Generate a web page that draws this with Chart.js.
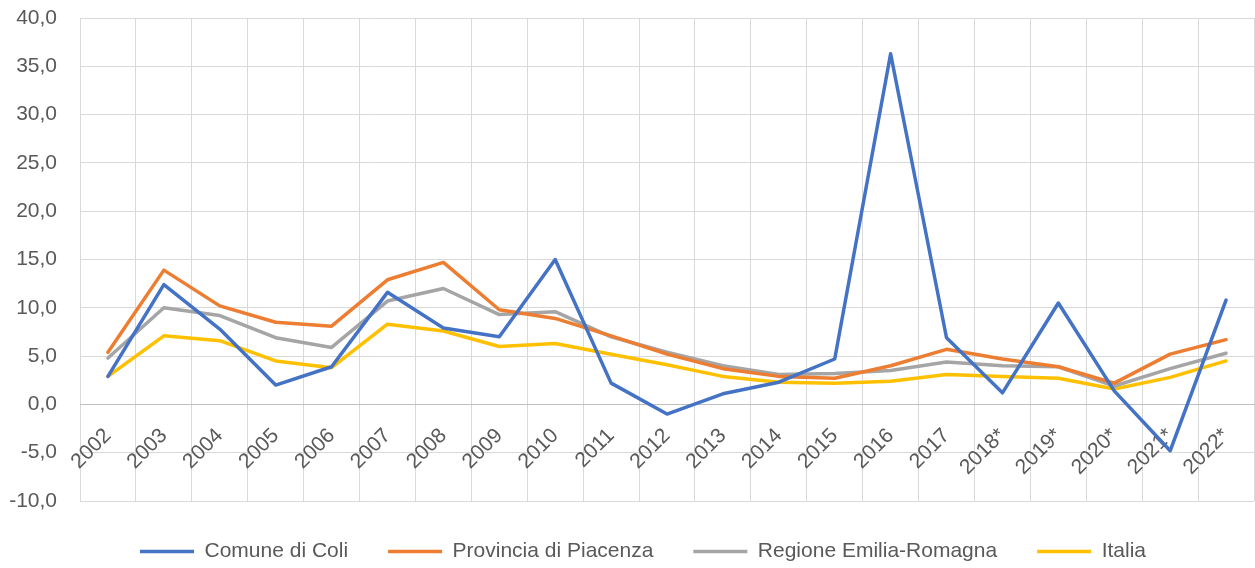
<!DOCTYPE html>
<html>
<head>
<meta charset="utf-8">
<script src="https://cdn.jsdelivr.net/npm/chart.js@4.4.1/dist/chart.umd.min.js"></script>
<style>
html,body{margin:0;padding:0;background:#fff;}
#wrap{width:1255px;height:568px;position:relative;}
</style>
</head>
<body>
<div id="wrap"><canvas id="c"></canvas></div>
<script>
const categories = ['2002','2003','2004','2005','2006','2007','2008','2009','2010','2011','2012','2013','2014','2015','2016','2017','2018*','2019*','2020*','2021*','2022*'];
const seriesNames = ['Comune di Coli','Provincia di Piacenza','Regione Emilia-Romagna','Italia'];
const comuneColi = [2.9, 12.4, 7.8, 2.0, 3.9, 11.6, 7.9, 7.0, 15.0, 2.2, -1.0, 1.1, 2.3, 4.7, 36.3, 6.9, 1.2, 10.5, 1.4, -4.8, 10.8];
const provinciaPiacenza = [5.4, 13.9, 10.2, 8.5, 8.1, 12.9, 14.7, 9.8, 8.9, 7.1, 5.2, 3.7, 2.9, 2.7, 4.0, 5.7, 4.7, 3.9, 2.2, 5.2, 6.7];
const regioneER = [4.8, 10.0, 9.2, 6.9, 5.9, 10.7, 12.0, 9.3, 9.6, 7.0, 5.4, 4.0, 3.1, 3.2, 3.5, 4.4, 4.0, 3.9, 1.9, 3.7, 5.3];
const italia = [2.9, 7.1, 6.6, 4.5, 3.8, 8.3, 7.6, 6.0, 6.3, 5.2, 4.1, 2.9, 2.3, 2.2, 2.4, 3.1, 2.9, 2.7, 1.6, 2.8, 4.5];
const yMin = -10, yMax = 40, yStep = 5;

const colors = ['#4472C4','#ED7D31','#A5A5A5','#FFC000'];
const values = [comuneColi, provinciaPiacenza, regioneER, italia];
const FONT = "'Liberation Sans', Arial, sans-serif";
const TXT = '#595959';

const legendTweakPlugin = {
  id: 'legendTweak',
  afterInit(chart) {
    const lg = chart.legend;
    if (lg && !lg._patched) {
      const origFit = lg.fit;
      lg.fit = function() { origFit.call(this); this.height = 67; };
      const origDraw = lg.draw;
      lg.draw = function() {
        const ctx = this.ctx;
        ctx.save();
        ctx.translate(16, 0);
        origDraw.call(this);
        ctx.restore();
      };
      lg._patched = true;
    }
  }
};

new Chart(document.getElementById('c'), {
  type: 'line',
  data: {
    labels: categories,
    datasets: seriesNames.map((n, i) => ({
      label: n,
      data: values[i],
      borderColor: colors[i],
      backgroundColor: colors[i],
      borderWidth: 3.5,
      pointRadius: 0,
      tension: 0,
      borderJoinStyle: 'round',
      borderCapStyle: 'round'
    }))
  },
  options: {
    responsive: true,
    maintainAspectRatio: false,
    animation: false,
    layout: { padding: { top: 18, right: 1, bottom: 0, left: 0 } },
    plugins: {
      tooltip: { enabled: false },
      legend: {
        position: 'bottom',
        labels: {
          usePointStyle: true,
          pointStyle: 'line',
          pointStyleWidth: 54,
          boxHeight: 21,
          padding: 40,
          color: TXT,
          font: { family: FONT, size: 21 }
        }
      }
    },
    scales: {
      x: {
        position: { y: 0 },
        offset: true,
        afterFit(scale) { scale.paddingTop = 0; scale.paddingBottom = 0; scale.paddingRight = 0; scale.paddingLeft = 0; },
        grid: { offset: true, color: '#d9d9d9', lineWidth: 1, drawTicks: false },
        border: { color: '#bfbfbf', width: 1 },
        ticks: {
          color: TXT,
          font: { family: FONT, size: 21 },
          minRotation: 45,
          maxRotation: 45,
          padding: 19,
          autoSkip: false
        }
      },
      y: {
        min: yMin,
        max: yMax,
        afterFit(scale) { scale.width = 80; scale.paddingTop = 0; scale.paddingBottom = 0; },
        grid: { color: '#d9d9d9', lineWidth: 1, drawTicks: false },
        border: { display: false },
        ticks: {
          stepSize: yStep,
          color: TXT,
          padding: 23,
          font: { family: FONT, size: 21 },
          callback: v => v.toFixed(1).replace('.', ',')
        }
      }
    }
  },
  plugins: [legendTweakPlugin]
});
</script>
</body>
</html>
